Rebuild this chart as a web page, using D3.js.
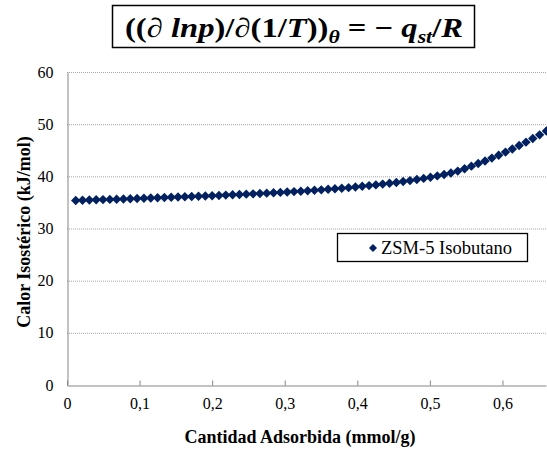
<!DOCTYPE html>
<html>
<head>
<meta charset="utf-8">
<script src="https://cdn.jsdelivr.net/npm/d3@7"></script>
<style>
  body { margin: 0; background: #fff; }
  svg { display: block; font-family: "Liberation Serif", "Times New Roman", serif; }
</style>
</head>
<body>
<div id="chart"></div>
<script>
// ZSM-5 isobutano, calor isostérico vs cantidad adsorbida
let seriesName = "ZSM-5 Isobutano";

let cantidad = [0.0120, 0.0214, 0.0308, 0.0402, 0.0496, 0.0590, 0.0684, 0.0778, 0.0872, 0.0966,
  0.1060, 0.1154, 0.1248, 0.1342, 0.1436, 0.1530, 0.1624, 0.1718, 0.1812, 0.1906,
  0.2000, 0.2094, 0.2188, 0.2282, 0.2376, 0.2470, 0.2564, 0.2658, 0.2752, 0.2846,
  0.2940, 0.3034, 0.3128, 0.3222, 0.3316, 0.3410, 0.3504, 0.3598, 0.3692, 0.3786,
  0.3880, 0.3974, 0.4068, 0.4162, 0.4256, 0.4350, 0.4444, 0.4538, 0.4632, 0.4726,
  0.4820, 0.4914, 0.5008, 0.5102, 0.5196, 0.5290, 0.5384, 0.5478, 0.5572, 0.5666,
  0.5760, 0.5854, 0.5948, 0.6042, 0.6136, 0.6230, 0.6324, 0.6418, 0.6512, 0.6606];

let calor = [35.38, 35.42, 35.46, 35.50, 35.54, 35.58, 35.62, 35.66, 35.70, 35.75,
  35.80, 35.84, 35.89, 35.94, 35.98, 36.03, 36.08, 36.13, 36.18, 36.23,
  36.28, 36.34, 36.40, 36.46, 36.52, 36.58, 36.64, 36.71, 36.78, 36.85,
  36.92, 36.99, 37.07, 37.15, 37.23, 37.32, 37.41, 37.51, 37.61, 37.72,
  37.83, 37.96, 38.09, 38.22, 38.36, 38.51, 38.66, 38.82, 39.00, 39.18,
  39.38, 39.60, 39.83, 40.08, 40.35, 40.65, 41.00, 41.45, 41.95, 42.45,
  42.95, 43.50, 44.05, 44.65, 45.25, 45.90, 46.55, 47.25, 47.95, 48.70];

let xTicks = [0, 0.1, 0.2, 0.3, 0.4, 0.5, 0.6];
let xTickLabels = ["0", "0,1", "0,2", "0,3", "0,4", "0,5", "0,6"];
let yTicks = [0, 10, 20, 30, 40, 50, 60];

let svgWidth = 547;
let svgHeight = 449;
let plotLeft = 67, plotRight = 546, plotTop = 72, plotBottom = 385;
let navy = "#002060";

let svg = d3.select("#chart")
  .append("svg")
  .attr("width", svgWidth)
  .attr("height", svgHeight)

let xScale = d3.scaleLinear().domain([0, 0.66]).range([plotLeft, plotRight])
let yScale = d3.scaleLinear().domain([0, 60]).range([plotBottom, plotTop])

// dotted gridlines
svg.append("g")
  .selectAll("line")
  .data(yTicks.slice(1))
  .enter()
  .append("line")
  .attr("x1", plotLeft)
  .attr("x2", plotRight)
  .attr("y1", d => yScale(d) + 0.5)
  .attr("y2", d => yScale(d) + 0.5)
  .attr("stroke", "#a6a6a6")
  .attr("stroke-width", 1)
  .attr("stroke-dasharray", "1,1")

// y axis
let yAxis = d3.axisLeft(yScale).tickValues(yTicks).tickSize(0).tickPadding(14)
let gy = svg.append("g")
  .attr("transform", `translate(${plotLeft + 0.5},0)`)
  .call(yAxis)
gy.select(".domain").attr("stroke", "#868686")
gy.selectAll("text")
  .attr("font-family", "Liberation Serif")
  .attr("font-size", 16)
  .attr("fill", "#000")

// x axis, ticks point up into the plot
let xAxis = d3.axisBottom(xScale)
  .tickValues(xTicks)
  .tickFormat((d, i) => xTickLabels[i])
  .tickSize(-5)
  .tickPadding(12)
  .tickSizeOuter(0)
let gx = svg.append("g")
  .attr("transform", `translate(0,${plotBottom + 0.5})`)
  .call(xAxis)
gx.select(".domain").attr("stroke", "#868686")
gx.selectAll(".tick line").attr("stroke", "#868686")
gx.selectAll("text")
  .attr("font-family", "Liberation Serif")
  .attr("font-size", 16)
  .attr("fill", "#000")

// axis titles
svg.append("text")
  .attr("x", 300)
  .attr("y", 443)
  .attr("text-anchor", "middle")
  .attr("font-size", 18)
  .attr("font-weight", "bold")
  .text("Cantidad Adsorbida (mmol/g)")

svg.append("text")
  .attr("transform", "translate(30,232) rotate(-90)")
  .attr("text-anchor", "middle")
  .attr("font-size", 18)
  .attr("font-weight", "bold")
  .text("Calor Isostérico (kJ/mol)")

// diamond markers
let diamond = r => `M0,${-r}L${r},0L0,${r}L${-r},0Z`

svg.append("g")
  .selectAll("path")
  .data(cantidad.map((c, i) => [c, calor[i]]))
  .enter()
  .append("path")
  .attr("d", diamond(4.7))
  .attr("transform", d => `translate(${xScale(d[0])},${yScale(d[1])})`)
  .attr("fill", navy)

// legend
let lg = svg.append("g")
lg.append("rect")
  .attr("x", 337.5)
  .attr("y", 233.5)
  .attr("width", 190)
  .attr("height", 28)
  .attr("fill", "#fff")
  .attr("stroke", "#000")
  .attr("stroke-width", 1.3)
lg.append("path")
  .attr("d", diamond(4))
  .attr("transform", "translate(373,248)")
  .attr("fill", navy)
lg.append("text")
  .attr("x", 381)
  .attr("y", 254)
  .attr("font-size", 18.5)
  .text(seriesName)

// title equation in a box
let tg = svg.append("g")
tg.append("rect")
  .attr("x", 112.5)
  .attr("y", 5.5)
  .attr("width", 362)
  .attr("height", 42)
  .attr("fill", "#fff")
  .attr("stroke", "#000")
  .attr("stroke-width", 1.5)

let title = tg.append("text")
  .attr("x", 125)
  .attr("y", 37)
  .attr("font-size", 27)
  .attr("font-weight", "bold")

let parts = [
  ["((∂ ", "normal", 0],
  ["lnp", "italic", 0],
  [")/∂(1/", "normal", 0],
  ["T", "italic", 0],
  ["))", "normal", 0],
  ["θ", "italic", 1],
  [" = −  ", "normal", -1],
  ["q", "italic", 0],
  ["st", "italic", 1],
  ["/", "normal", -1],
  ["R", "italic", 0]
]
parts.forEach(p => {
  let t = title.append("tspan")
    .attr("font-style", p[1])
    .text(p[0])
  if (p[2] === 1) t.attr("font-size", 18).attr("dy", 6)
  if (p[2] === -1) t.attr("dy", -6)
})
title.attr("textLength", 338).attr("lengthAdjust", "spacingAndGlyphs")
</script>
</body>
</html>
